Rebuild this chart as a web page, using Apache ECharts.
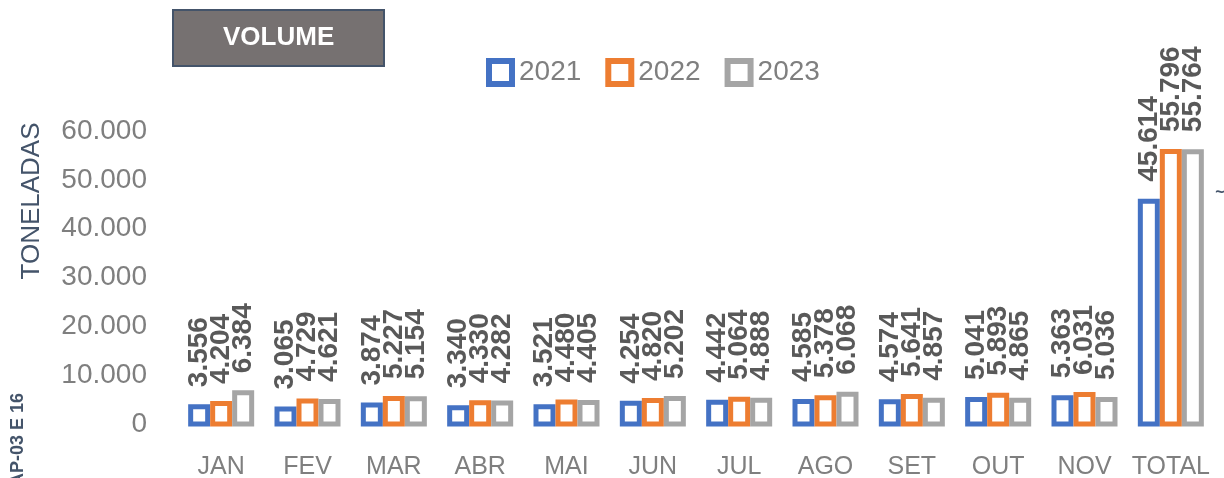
<!DOCTYPE html>
<html lang="pt">
<head>
	<meta charset="UTF-8">
	<title>Volume</title>
	<script src="https://cdn.jsdelivr.net/npm/echarts@6/dist/echarts.min.js"></script>
	<style>
		html, body { margin: 0; padding: 0; background: #fff; }
		#main { width: 1224px; height: 478px; }
	</style>
</head>
<body>
	<div id="main"></div>
<script type="text/javascript">
	// categorias e valores (toneladas)
	var meses = ['JAN', 'FEV', 'MAR', 'ABR', 'MAI', 'JUN', 'JUL', 'AGO', 'SET', 'OUT', 'NOV', 'TOTAL'];
	var v2021 = [3556, 3065, 3874, 3340, 3521, 4254, 4442, 4585, 4574, 5041, 5363, 45614];
	var v2022 = [4204, 4729, 5227, 4330, 4480, 4820, 5064, 5378, 5641, 5893, 6031, 55796];
	var v2023 = [6384, 4621, 5154, 4282, 4405, 5202, 4888, 6068, 4857, 4865, 5036, 55764];
	var anos = ['2021', '2022', '2023'];
	var cores = ['#4472C4', '#ED7D31', '#A5A5A5'];

	var fonte = '"Liberation Sans", Arial, sans-serif';

	// separador de milhar com ponto
	function fmt(v) {
		return String(v).replace(/\B(?=(\d{3})+(?!\d))/g, '.');
	}

	// barra vazada com borda centrada (como no Excel), desenhada pelos eixos do echarts
	function serie(nome, dados, cor, idx) {
		return {
			name: nome,
			type: 'custom',
			data: dados.map(function (v, i) { return [i, v]; }),
			encode: { x: 0, y: 1 },
			itemStyle: { color: '#fff', borderColor: cor, borderWidth: 5 },
			renderItem: function (params, api) {
				var val = api.value(1);
				var base = api.coord([api.value(0), 0]);
				var topo = api.coord([api.value(0), val]);
				var cx = base[0] + (idx - 1) * 22;
				return {
					type: 'rect',
					shape: { x: cx - 8.5, y: topo[1], width: 17, height: base[1] - topo[1] },
					style: { fill: '#fff', stroke: cor, lineWidth: 5 },
					textContent: {
						style: {
							text: fmt(val),
							font: 'bold 28px ' + fonte,
							fill: '#595959',
							align: 'left',
							verticalAlign: 'middle'
						}
					},
					textConfig: { position: 'top', rotation: Math.PI / 2, distance: 17 }
				};
			}
		};
	}

	var myChart = echarts.init(document.getElementById('main'));
	var option = {
		animation: false,
		title: {
			text: 'VOLUME',
			left: 173,
			top: 10,
			padding: [15, 50, 15, 50],
			backgroundColor: '#767171',
			borderColor: '#44546A',
			borderWidth: 2,
			textStyle: { color: '#fff', fontFamily: fonte, fontWeight: 'bold', fontSize: 26, lineHeight: 26 }
		},
		legend: {
			data: anos,
			icon: 'rect',
			left: 486,
			top: 58,
			padding: 0,
			itemWidth: 23,
			itemHeight: 23,
			itemGap: 24,
			itemStyle: { borderWidth: 6 },
			textStyle: { color: '#7F7F7F', fontFamily: fonte, fontSize: 28, padding: [0, 0, 0, 2] }
		},
		grid: { left: 178, right: 10, top: 131, bottom: 54, containLabel: false, outerBoundsMode: 'none' },
		xAxis: {
			type: 'category',
			data: meses,
			axisLine: { show: false },
			axisTick: { show: false },
			axisLabel: { interval: 0, color: '#7F7F7F', fontFamily: fonte, fontSize: 25, margin: 31 }
		},
		yAxis: {
			type: 'value',
			min: 0,
			max: 60000,
			interval: 10000,
			splitLine: { show: false },
			axisLine: { show: false },
			axisTick: { show: false },
			axisLabel: {
				color: '#7F7F7F', fontFamily: fonte, fontSize: 28, margin: 31, padding: [4, 0, 0, 0],
				formatter: function (v) { return fmt(v); }
			}
		},
		graphic: [
			{
				type: 'text', x: 32, y: 201, rotation: Math.PI / 2,
				style: { text: 'TONELADAS', fill: '#44546A', font: '26px ' + fonte, textAlign: 'center', textVerticalAlign: 'middle' }
			},
			{
				type: 'text', x: 18, y: 393, rotation: Math.PI / 2,
				style: { text: 'AP-03 E 16', fill: '#44546A', font: 'bold 18px ' + fonte, textAlign: 'right', textVerticalAlign: 'middle' }
			},
			{
				type: 'text', x: 1220, y: 193,
				style: { text: '~', fill: '#44546A', font: 'bold 16px ' + fonte, textAlign: 'center', textVerticalAlign: 'middle' }
			}
		],
		series: [
			serie(anos[0], v2021, cores[0], 0),
			serie(anos[1], v2022, cores[1], 1),
			serie(anos[2], v2023, cores[2], 2)
		]
	};
	myChart.setOption(option);
</script>
</body>
</html>
